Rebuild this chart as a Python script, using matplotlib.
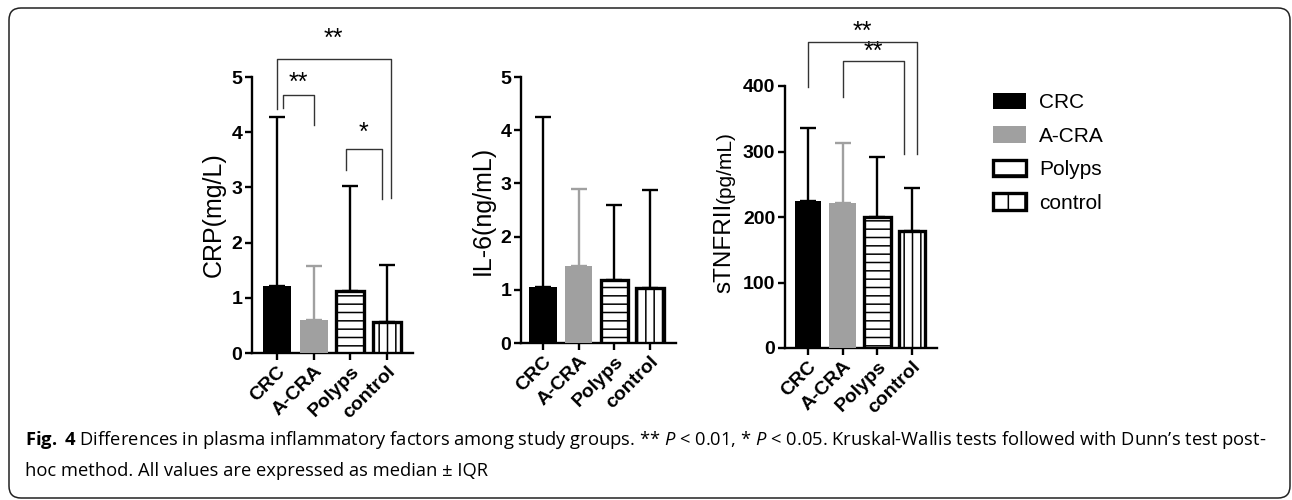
import matplotlib
matplotlib.use("Agg")
import matplotlib.pyplot as plt
import numpy as np
from matplotlib.patches import FancyBboxPatch, Patch
from matplotlib.transforms import IdentityTransform

groups = ["CRC", "A-CRA", "Polyps", "control"]

crp_median = [1.22, 0.60, 1.12, 0.56]
crp_upper = [4.28, 1.58, 3.03, 1.60]
il6_median = [1.05, 1.45, 1.18, 1.03]
il6_upper = [4.25, 2.90, 2.60, 2.88]
tnf_median = [225, 222, 200, 178]
tnf_upper = [336, 313, 292, 245]

# brackets: x_left, x_right, y_top, y_left_leg, y_right_leg, stars, text_y
crp_brackets = [
    (0.16, 1.00, 4.67, 4.43, 4.13, "**", 4.90),
    (0.00, 3.10, 5.33, 4.42, 2.80, "**", 5.70),
    (1.88, 2.86, 3.70, 3.31, 2.79, "*", 3.98),
]
tnf_brackets = [
    (0.00, 3.14, 467, 398, 296, "**", 482),
    (1.00, 2.76, 438, 383, 296, "**", 452),
]

W, H = 1292, 500
plt.rcParams['font.family'] = ['Liberation Sans', 'DejaVu Sans']
plt.rcParams['hatch.linewidth'] = 1.1
plt.rcParams['mathtext.fontset'] = 'custom'
plt.rcParams['mathtext.rm'] = 'Open Sans'
plt.rcParams['mathtext.it'] = 'Open Sans:italic'
plt.rcParams['mathtext.bf'] = 'Open Sans:bold'

fig = plt.figure(figsize=(W / 100, H / 100), dpi=100)

colors = ['black', '#a0a0a0', 'white', 'white']
edges = ['black', '#a0a0a0', 'black', 'black']
hatches = [None, None, '--', '||']
err_colors = ['black', '#a0a0a0', 'black', 'black']


def make_axes(x0, x1, ytop, ybot):
    return fig.add_axes([x0 / W, 1 - ybot / H, (x1 - x0) / W, (ybot - ytop) / H])


def draw_panel(ax, med, upper, ylim, yticks, spacing_px, left_px, right_px):
    x = np.arange(len(groups))
    for i in range(len(groups)):
        ax.bar(x[i], med[i], width=0.77, color=colors[i], edgecolor=edges[i],
               hatch=hatches[i], linewidth=2.4 if i >= 2 else 0, zorder=3)
        ax.errorbar(x[i], med[i], yerr=[[0], [upper[i] - med[i]]], fmt='none',
                    ecolor=err_colors[i], elinewidth=1.7, capsize=6, capthick=1.7,
                    zorder=2)
    ax.set_ylim(*ylim)
    ax.set_xlim(-left_px / spacing_px, 3 + right_px / spacing_px)
    ax.set_yticks(yticks)
    ax.set_xticks(x)
    ax.set_xticklabels(groups, rotation=45, ha='right', rotation_mode='anchor',
                       fontweight='bold', fontsize=14)
    for lab in ax.get_yticklabels():
        lab.set_fontweight('bold')
        lab.set_fontsize(14)
    for s in ['top', 'right']:
        ax.spines[s].set_visible(False)
    for s in ['left', 'bottom']:
        ax.spines[s].set_linewidth(1.7)
    ax.tick_params(width=1.7, length=5, pad=2)


def draw_brackets(ax, brackets):
    for xl, xr, yt, yl, yr, label, ty in brackets:
        ax.plot([xl, xl, xr, xr], [yl, yt, yt, yr], color='#333333', lw=1.0,
                clip_on=False, zorder=4)
        ax.text((xl + xr) / 2, ty, label, ha='center', va='center', fontsize=18,
                clip_on=False)


ax1 = make_axes(252, 413, 77, 353)
draw_panel(ax1, crp_median, crp_upper, (0, 5), range(6), 36.67, 25, 26)
ax1.set_ylabel("CRP(mg/L)", fontsize=18, labelpad=4)
draw_brackets(ax1, crp_brackets)

ax2 = make_axes(521, 676, 77, 343)
draw_panel(ax2, il6_median, il6_upper, (0, 5), range(6), 35.67, 22, 26)
ax2.set_ylabel("IL-6(ng/mL)", fontsize=18, labelpad=4)

ax3 = make_axes(785, 937, 86, 348)
draw_panel(ax3, tnf_median, tnf_upper, (0, 400), range(0, 401, 100), 34.67, 23, 25)
ax3.text(-0.36, 0.553, "sTNFRII", transform=ax3.transAxes, rotation=90,
         rotation_mode='anchor', ha='right', va='baseline', fontsize=17.5)
ax3.text(-0.36, 0.553, "(pg/mL)", transform=ax3.transAxes, rotation=90,
         rotation_mode='anchor', ha='left', va='baseline', fontsize=15)
draw_brackets(ax3, tnf_brackets)

# legend
leg_hatches = [None, None, '-', '|']
handles = [Patch(facecolor=colors[i], edgecolor=edges[i], hatch=leg_hatches[i],
                 linewidth=2.4 if i >= 2 else 0, label=groups[i])
           for i in range(len(groups))]
fs = 15 * 100 / 72
fig.legend(handles=handles, loc='upper left', bbox_to_anchor=(993 / W, 1 - 93 / H),
           frameon=False, fontsize=15, handlelength=33 / fs, handleheight=17 / fs,
           handletextpad=13 / fs, labelspacing=(35 - fs) / fs, borderaxespad=0,
           borderpad=0)

# caption
line1 = (r"$\mathbf{Fig.}$ $\mathbf{4}$ Differences in plasma inflammatory factors among study groups. "
         r"** $P$ < 0.01, * $P$ < 0.05. Kruskal-Wallis tests followed with Dunn’s test post-")
line2 = "hoc method. All values are expressed as median ± IQR"
fig.text(25 / W, 1 - 440 / H, line1, fontsize=13.2, family='Open Sans', va='center')
fig.text(25 / W, 1 - 471 / H, line2, fontsize=13.2, family='Open Sans', va='center')

# rounded frame
frame = FancyBboxPatch((9, 2), 1281, 490, boxstyle="round,pad=0,rounding_size=12",
                       transform=IdentityTransform(), fill=False, edgecolor='#222222',
                       linewidth=1.1)
fig.patches.append(frame)

fig.savefig("out.png", dpi=100)
